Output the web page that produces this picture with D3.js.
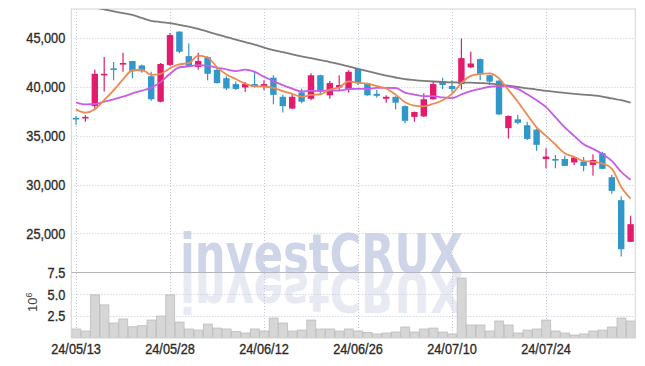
<!DOCTYPE html>
<html>
<head>
<meta charset="utf-8">
<script src="https://d3js.org/d3.v7.min.js"></script>
<style>
  body { margin: 0; background: #fff; }
  .lbl text { font-family: "Liberation Sans", Arial, sans-serif; font-size: 15px; fill: #2a2a2a; stroke: #2a2a2a; stroke-width: 0.35px; }
</style>
</head>
<body>
<script>
// daily bars, 24/05/13 .. 24/08/06
var dates = ["24/05/13","24/05/14","24/05/16","24/05/17","24/05/20","24/05/21","24/05/22","24/05/23","24/05/24","24/05/27",
  "24/05/28","24/05/29","24/05/30","24/05/31","24/06/03","24/06/04","24/06/05","24/06/07","24/06/10","24/06/11",
  "24/06/12","24/06/13","24/06/14","24/06/17","24/06/18","24/06/19","24/06/20","24/06/21","24/06/24","24/06/25",
  "24/06/26","24/06/27","24/06/28","24/07/01","24/07/02","24/07/03","24/07/04","24/07/05","24/07/08","24/07/09",
  "24/07/10","24/07/11","24/07/12","24/07/15","24/07/16","24/07/17","24/07/18","24/07/19","24/07/22","24/07/23",
  "24/07/24","24/07/25","24/07/26","24/07/29","24/07/30","24/07/31","24/08/01","24/08/02","24/08/05","24/08/06"];
var opens = [36800,36750,38000,41200,41850,42300,42600,42150,41050,38450,
  42200,45600,43100,42000,43000,41700,40850,40250,39900,40250,
  39950,40900,38950,37750,39400,38750,41150,39100,39900,39700,
  41800,40300,39250,38750,38950,38000,36900,36950,38700,40550,
  40050,40250,41950,42800,41150,40600,35750,36650,36050,35600,
  32600,32600,32600,32250,32350,32000,33200,30750,28400,24150];
var highs = [37000,37100,41700,43000,42500,43450,42600,42250,41500,42400,
  45450,45650,44400,43450,43100,41950,41050,40500,40450,41600,
  40650,41150,39150,39300,39800,41350,41200,40550,41150,41650,
  41850,40350,39650,39100,39000,38100,37450,39300,40500,40900,
  40650,44900,43550,42850,41200,40650,37050,37100,36400,35700,
  33700,33000,32950,32800,32800,33100,33350,31000,28800,26800];
var lows = [36100,36400,37700,39500,40650,41500,40850,41400,38550,38400,
  42100,43400,42000,41700,40650,40300,39650,39650,39450,39900,
  39650,38200,37350,37700,38300,38600,39250,38750,39650,39400,
  40150,39050,38850,38350,37650,36250,36400,36900,38650,39750,
  39400,39700,41900,40650,40150,37100,34700,36150,34550,33450,
  31650,31650,31900,32000,31350,30900,31550,29050,22650,24150];
var closes = [36700,36900,41300,41300,41750,42400,41550,41550,38700,42300,
  45250,43550,42100,42600,41300,40350,39800,39750,40250,39950,
  40250,39150,38000,38950,38450,41150,39500,40350,40150,41500,
  40400,39100,39050,38950,38350,36500,37400,38700,40250,40150,
  39750,42900,42350,41250,40500,37150,37000,36300,34650,34050,
  32850,32550,31900,32750,31900,32500,31600,29350,23400,25950];
// volume, millions of shares
var volume = [1.01,0.78,4.94,3.78,1.70,2.16,1.27,1.39,2.04,2.50,
  4.94,1.81,1.01,0.89,1.58,1.12,1.01,0.73,0.55,1.01,
  0.78,2.27,1.70,0.78,0.89,2.04,1.01,1.01,0.78,1.01,
  0.78,0.62,0.44,0.55,0.66,1.24,0.66,1.01,1.12,0.66,
  0.44,6.86,1.47,1.47,0.78,1.93,1.47,0.55,0.89,1.01,
  2.04,0.78,0.55,0.32,0.44,0.78,0.89,1.24,2.27,1.93];
// moving averages as drawn
var ma5 = [37670,37330,37670,38620,39600,40730,41660,41710,41190,41300,
  41870,42270,42380,43160,42960,41980,41230,40760,40290,40020,
  40000,39870,39520,39260,38960,39140,39210,39680,39920,40530,
  40380,40300,40040,39800,39170,38390,38050,37980,38240,38600,
  39250,40350,41080,41280,41350,40830,39650,38440,37120,35830,
  34970,34080,33200,32820,32390,32320,32130,31620,29750,28560];
var ma10 = [38390,38180,38215,38450,38690,38960,39300,39570,39880,40445,
  41300,41965,42045,42175,42130,41925,41750,41570,41725,41490,
  40990,40550,40140,39775,39490,39570,39540,39600,39590,39745,
  39760,39755,39860,39860,39850,39385,39175,39010,39020,38885,
  38820,39200,39530,39760,39975,40040,40000,39760,39200,38590,
  37900,36865,35820,34970,34110,33645,33105,32410,31285,30475];
var maLong = [48400,48200,48050,47870,47670,47490,47310,47000,46700,46580,
  46460,46300,46110,45880,45600,45320,45050,44780,44520,44270,
  43980,43720,43510,43290,43080,42890,42690,42500,42290,42050,
  41800,41560,41330,41110,40920,40750,40650,40570,40510,40460,
  40430,40410,40390,40350,40300,40200,40080,39950,39810,39690,
  39550,39450,39360,39250,39170,39090,38970,38780,38600,38350];
var priceTicks = [25000, 30000, 35000, 40000, 45000];
var volTicks = [2.5, 5.0, 7.5];
var dateTicks = [0, 10, 20, 30, 40, 50];

var width = 645, height = 366;
var mLeft = 71.3, mRight = 635.3, mTop = 9, mSep = 272.5, mBottom = 337.8;

var svg = d3.select("body").append("svg")
  .attr("width", width).attr("height", height);

var x = d3.scaleBand().domain(d3.range(dates.length)).range([mLeft, mRight]).padding(0);
var bw = x.bandwidth();
var cx = function (i) { return x(i) + bw / 2; };
var yP = d3.scaleLinear().domain([21020, 47910]).range([mSep, mTop]);
var yV = d3.scaleLinear().domain([0, 7.5]).range([mBottom, mSep]);

svg.append("clipPath").attr("id", "pclip")
  .append("rect").attr("x", mLeft).attr("y", mTop).attr("width", mRight - mLeft).attr("height", mSep - mTop);

// watermark + reflection
var wm = svg.append("g");
wm.append("text").attr("x", 180).attr("y", mSep)
  .attr("textLength", 283).attr("lengthAdjust", "spacingAndGlyphs")
  .style("font-family", "DejaVu Sans").style("font-weight", "bold").style("font-size", "55px")
  .style("fill", "#cfd5e8").text("investCRUX");
wm.append("text").attr("x", 180).attr("y", mSep)
  .attr("transform", "translate(0," + (2 * mSep) + ") scale(1,-1)")
  .attr("textLength", 283).attr("lengthAdjust", "spacingAndGlyphs")
  .style("font-family", "DejaVu Sans").style("font-weight", "bold").style("font-size", "55px")
  .style("fill", "#e7e9f3").text("investCRUX");

// grids
var grid = svg.append("g").attr("stroke", "#c6c8da").attr("stroke-dasharray", "1,2").attr("stroke-width", 1);
grid.selectAll(".hp").data(priceTicks).enter().append("line")
  .attr("x1", mLeft).attr("x2", mRight).attr("y1", function (d) { return Math.round(yP(d)) + 0.5; })
  .attr("y2", function (d) { return Math.round(yP(d)) + 0.5; });
grid.selectAll(".hv").data(volTicks.slice(0, 2)).enter().append("line")
  .attr("x1", mLeft).attr("x2", mRight).attr("y1", function (d) { return Math.round(yV(d)) + 0.5; })
  .attr("y2", function (d) { return Math.round(yV(d)) + 0.5; });
grid.selectAll(".vx").data(dateTicks).enter().append("line")
  .attr("x1", function (d) { return Math.round(cx(d)) + 0.5; })
  .attr("x2", function (d) { return Math.round(cx(d)) + 0.5; })
  .attr("y1", mTop).attr("y2", mBottom);

// volume bars
svg.append("g").selectAll("rect").data(volume).enter().append("rect")
  .attr("x", function (d, i) { return x(i) + 0.5; })
  .attr("width", bw - 0.5)
  .attr("y", function (d) { return yV(d); })
  .attr("height", function (d) { return mBottom - yV(d); })
  .attr("fill", "#d6d6d6").attr("stroke", "#bcbcbc").attr("stroke-width", 0.8);

// frame
svg.append("line").attr("x1", mLeft).attr("x2", mRight).attr("y1", mSep).attr("y2", mSep)
  .attr("stroke", "#b5b5bd").attr("stroke-width", 1);
svg.append("rect").attr("x", mLeft).attr("y", mTop).attr("width", mRight - mLeft).attr("height", mBottom - mTop)
  .attr("fill", "none").attr("stroke", "#d4d4d4").attr("stroke-width", 1);

// candles
var up = "#e31b6d", down = "#3196c9";
var cg = svg.append("g").attr("clip-path", "url(#pclip)");
var c = cg.selectAll("g").data(dates).enter().append("g");
c.append("line")
  .attr("x1", function (d, i) { return cx(i); }).attr("x2", function (d, i) { return cx(i); })
  .attr("y1", function (d, i) { return yP(highs[i]); }).attr("y2", function (d, i) { return yP(lows[i]); })
  .attr("stroke", function (d, i) { return closes[i] >= opens[i] ? up : down; }).attr("stroke-width", 1.2);
c.append("rect")
  .attr("x", function (d, i) { return cx(i) - 3.2; }).attr("width", 6.4)
  .attr("y", function (d, i) { return yP(Math.max(opens[i], closes[i])); })
  .attr("height", function (d, i) { return Math.max(1.6, Math.abs(yP(opens[i]) - yP(closes[i]))); })
  .attr("fill", function (d, i) { return closes[i] >= opens[i] ? up : down; });

// moving averages
function maLine(vals, color) {
  cg.append("path").datum(vals)
    .attr("d", d3.line().x(function (d, i) { return cx(i); }).y(function (d) { return yP(d); }).curve(d3.curveMonotoneX))
    .attr("fill", "none").attr("stroke", color).attr("stroke-width", 1.8);
}
maLine(maLong, "#7b7b7b");
maLine(ma10, "#c95ce6");
maLine(ma5, "#ec8a52");

// axes
var ay = svg.append("g").attr("class", "lbl").attr("transform", "translate(" + mLeft + ",0)")
  .call(d3.axisLeft(yP).tickValues(priceTicks).tickFormat(d3.format(",")).tickSize(0).tickPadding(6));
ay.select(".domain").remove();
var av = svg.append("g").attr("class", "lbl").attr("transform", "translate(" + mLeft + ",0)")
  .call(d3.axisLeft(yV).tickValues(volTicks).tickFormat(d3.format(".1f")).tickSize(0).tickPadding(6));
av.select(".domain").remove();
var ax = svg.append("g").attr("class", "lbl").attr("transform", "translate(0," + mBottom + ")")
  .call(d3.axisBottom(x).tickValues(dateTicks).tickFormat(function (i) { return dates[i]; }).tickSize(0).tickPadding(5.5));
ax.select(".domain").remove();

// narrow the tick labels to match the condensed face
svg.selectAll(".lbl text").each(function () {
  var w = this.getComputedTextLength();
  d3.select(this).attr("textLength", w * 0.85).attr("lengthAdjust", "spacingAndGlyphs");
});

var exp = svg.append("text").attr("transform", "translate(37,312) rotate(-90)")
  .style("font-family", "Liberation Sans, Arial, sans-serif").style("fill", "#444");
exp.append("tspan").style("font-size", "13px").text("10");
exp.append("tspan").attr("dy", -5).style("font-size", "9px").text("6");
</script>
</body>
</html>
